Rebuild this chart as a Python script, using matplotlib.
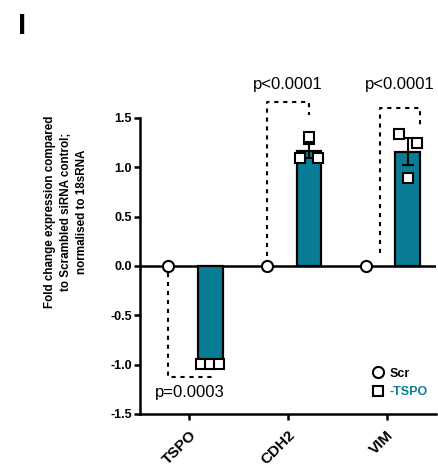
import matplotlib
matplotlib.use("Agg")
import matplotlib.pyplot as plt
import numpy as np
from matplotlib.lines import Line2D

plt.rcParams['font.family'] = ['Liberation Sans', 'DejaVu Sans']

# ---- data ----
genes = ["TSPO", "CDH2", "VIM"]
scr_values = [0.0, 0.0, 0.0]
tspo_points = [
    [-0.99, -0.99, -0.99],
    [1.09, 1.31, 1.09],
    [1.34, 0.89, 1.25],
]
p_labels = ["p=0.0003", "p<0.0001", "p<0.0001"]
y_ticks = [-1.5, -1.0, -0.5, 0.0, 0.5, 1.0, 1.5]

TEAL = "#0a7d96"

fig = plt.figure(figsize=(4.39, 4.68), dpi=100)
ax = fig.add_axes([140/439, 1-414/468, 296/439, 296/468])

x = np.arange(len(genes))
off = 0.213
bw = 0.25

means = [np.mean(p) for p in tspo_points]
sems = [np.std(p, ddof=1)/np.sqrt(len(p)) for p in tspo_points]

ax.axhline(0, color='black', lw=1.8, zorder=2)

ax.bar(x + off, means, width=bw, color=TEAL, edgecolor='black', linewidth=1.6, zorder=3)
ax.errorbar(x + off, means, yerr=sems, fmt='none', ecolor='black', elinewidth=1.5,
            capsize=4, capthick=1.5, zorder=4)

jit = [-0.09, 0.0, 0.09]
for i, pts in enumerate(tspo_points):
    ax.plot(x[i] + off + np.array(jit), pts, ls='', marker='s', ms=6.5, mfc='white',
            mec='black', mew=1.5, zorder=5, clip_on=False)

ax.plot(x - off, scr_values, ls='', marker='o', ms=8, mfc='white', mec='black',
        mew=1.5, zorder=6, clip_on=False)

# significance brackets
dash = dict(color='black', lw=1.5, dashes=(2, 2.3), clip_on=False, zorder=1)
ax.plot([0 - off, 0 - off, 0.245], [-0.07, -1.12, -1.12], **dash)
ax.plot([1 - off, 1 - off, 1 + off, 1 + off], [0.1, 1.66, 1.66, 1.53], **dash)
ax.plot([2 - 0.07, 2 - 0.07, 2 + 0.335, 2 + 0.335], [0.13, 1.60, 1.60, 1.43], **dash)

ax.text(0, -1.287, p_labels[0], ha='center', va='center', fontsize=12, clip_on=False)
ax.text(1, 1.844, p_labels[1], ha='center', va='center', fontsize=12, clip_on=False)
ax.text(2.13, 1.844, p_labels[2], ha='center', va='center', fontsize=12, clip_on=False)

ax.set_xlim(-0.5, 2.5)
ax.set_ylim(-1.5, 1.5)
ax.set_yticks(y_ticks)
ax.set_yticklabels([f"{v:.1f}" for v in y_ticks], fontsize=9, fontweight='bold')
ax.set_xticks(x)
ax.set_xticklabels(genes, rotation=45, ha='right', va='top', rotation_mode='anchor',
                   fontsize=11, fontweight='bold')
ax.tick_params(axis='both', direction='out', length=4, width=1.8, pad=2)
ax.tick_params(axis='x', pad=6)

for s in ['top', 'right']:
    ax.spines[s].set_visible(False)
for s in ['left', 'bottom']:
    ax.spines[s].set_linewidth(1.8)

fig.text(66/439, 1-212/468,
         "Fold change expression compared\nto Scrambled siRNA control;\nnormalised to 18sRNA",
         rotation=90, ha='center', va='center', fontsize=8.4, fontweight='bold',
         linespacing=1.45, multialignment='center')

fig.text(18/439, 1-12/468, "I", ha='left', va='top', fontsize=21, fontweight='bold')

handles = [
    Line2D([], [], ls='', marker='o', ms=8, mfc='white', mec='black', mew=1.5),
    Line2D([], [], ls='', marker='s', ms=7, mfc='white', mec='black', mew=1.5),
]
leg = ax.legend(handles, ["Scr", "-TSPO"], loc='center left',
                bbox_to_anchor=(371/439, 1-383/468), bbox_transform=fig.transFigure,
                frameon=False, handletextpad=0.3, handlelength=1.2, labelspacing=0.55,
                prop={'weight': 'bold', 'size': 9},
                borderaxespad=0, borderpad=0)
leg.get_texts()[1].set_color(TEAL)

fig.savefig("out.png", dpi=100)
